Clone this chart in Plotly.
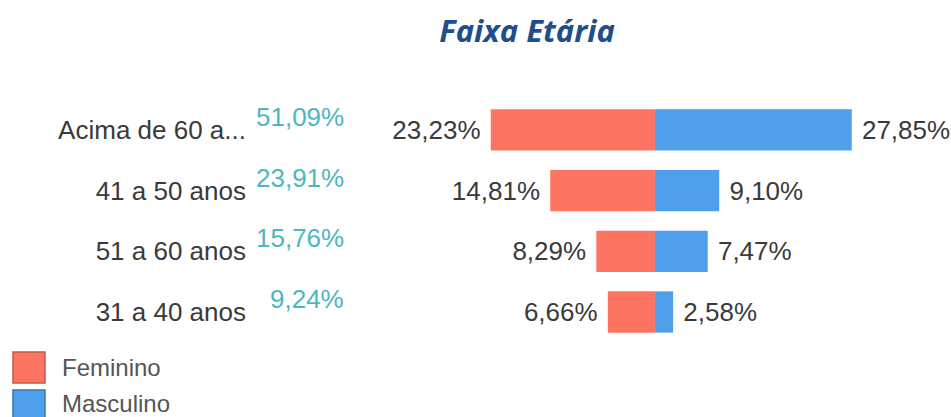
import plotly.graph_objects as go

# ---- data ----
categories = ["Acima de 60 a...", "41 a 50 anos", "51 a 60 anos", "31 a 40 anos"]
feminino = [23.23, 14.81, 8.29, 6.66]
masculino = [27.85, 9.10, 7.47, 2.58]
totals = [51.09, 23.91, 15.76, 9.24]
series_names = ["Feminino", "Masculino"]
title_text = "Faixa Etária"

RED = "#FE7462"
BLUE = "#4F9FEA"
TEAL = "#4CB7BF"
TXT = "#3A3A3A"
FONT = "Liberation Sans"
FS = 26


def fmt(v):
    return f"{v:.2f}".replace(".", ",") + "%"


fig = go.Figure()
fig.add_trace(go.Bar(
    y=categories, x=[-v for v in feminino], orientation="h",
    name=series_names[0], marker=dict(color=RED, line=dict(width=0)),
    text=[fmt(v) + " " for v in feminino], textposition="outside",
    textfont=dict(family=FONT, size=FS, color=TXT),
    constraintext="none", cliponaxis=False, width=0.68, showlegend=False,
))
fig.add_trace(go.Bar(
    y=categories, x=masculino, orientation="h",
    name=series_names[1], marker=dict(color=BLUE, line=dict(width=0)),
    text=[" " + fmt(v) for v in masculino], textposition="outside",
    textfont=dict(family=FONT, size=FS, color=TXT),
    constraintext="none", cliponaxis=False, width=0.68, showlegend=False,
))

# totals next to category labels
for c, t in zip(categories, totals):
    fig.add_annotation(
        x=(346 - 250) / 701, xref="paper", y=c, yref="y", text=fmt(t), showarrow=False,
        xanchor="right", yanchor="middle", yshift=13,
        font=dict(family=FONT, size=FS, color=TEAL),
    )

# legend (drawn as swatches + labels)
legend_colors = [(RED, "#C25A4C"), (BLUE, "#3A78B5")]
label_centers = [367, 403]
for i, (name, (fill, edge)) in enumerate(zip(series_names, legend_colors)):
    y0 = 1 - (352 + i * 38) / 417
    y1 = 1 - (383 + i * 38) / 417
    fig.add_shape(type="rect", xref="paper", yref="paper",
                  x0=(13 - 250) / 701, x1=(45 - 250) / 701, y0=y1, y1=y0,
                  fillcolor=fill, line=dict(color=edge, width=1.5))
    fig.add_annotation(x=(60 - 250) / 701, xref="paper", y=1 - label_centers[i] / 417, yref="paper",
                       text=name, showarrow=False, xanchor="left", yanchor="middle",
                       font=dict(family=FONT, size=24, color="#555555"))

fig.update_layout(
    width=951, height=417,
    margin=dict(l=250, r=0, t=0, b=0),
    paper_bgcolor="white", plot_bgcolor="white",
    barmode="relative", bargap=0.32,
    showlegend=False,
    title=dict(text=title_text, x=527 / 951, xanchor="center", y=1 - 31 / 417, yanchor="middle",
               font=dict(family="Open Sans", size=31, color="#1F4E8C", weight="bold", style="italic")),
    xaxis=dict(range=[-57.3, 41.9], visible=False, fixedrange=True),
    yaxis=dict(categoryorder="array", categoryarray=categories, range=[4.73, -2.14],
               showgrid=False, zeroline=False, showline=False, ticks="",
               ticklabelstandoff=3, fixedrange=True,
               tickfont=dict(family=FONT, size=FS, color=TXT)),
)

fig.write_html("out.html", config={"displayModeBar": False},
               post_script="document.body.style.margin='0px';document.body.style.overflow='hidden';")
